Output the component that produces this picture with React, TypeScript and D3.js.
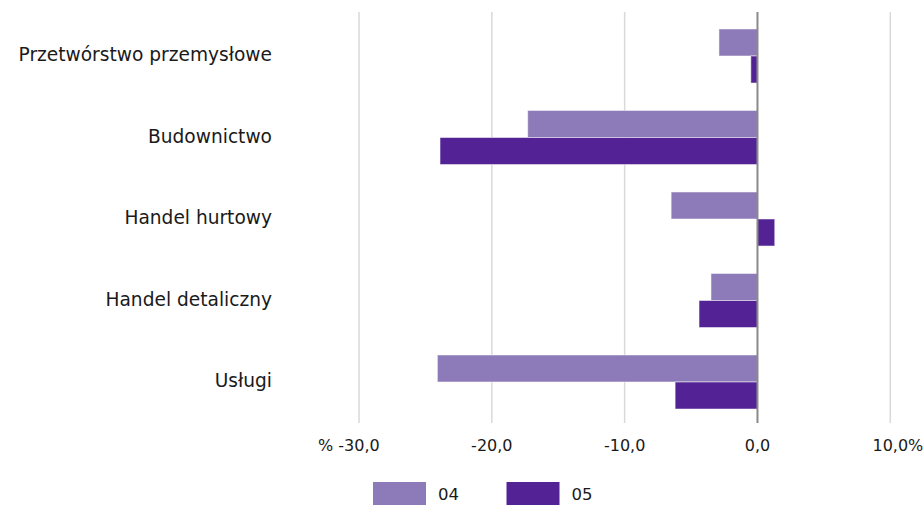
import React, { useEffect, useRef } from "react";
import * as d3 from "d3";

const categories = [
  "Przetwórstwo przemysłowe",
  "Budownictwo",
  "Handel hurtowy",
  "Handel detaliczny",
  "Usługi",
];
const seriesNames = ["04", "05"];
const values04 = [-2.9, -17.3, -6.5, -3.5, -24.1];
const values05 = [-0.5, -23.9, 1.3, -4.4, -6.2];
const tickValues = [-30, -20, -10, 0, 10];
const colors = ["#8c7bb8", "#532396"];

const W = 923;
const H = 505;
const FONT = "'DejaVu Sans', sans-serif";

export default function App() {
  const ref = useRef<SVGSVGElement>(null);
  useEffect(() => {
    const svg = d3.select(ref.current);
    svg.selectAll("*").remove();
    const x = d3.scaleLinear().domain([-30, 10]).range([359, 890.3]);
    const y = d3
      .scaleBand<string>()
      .domain(categories)
      .range([15.25, 422.75])
      .paddingInner(0.337)
      .paddingOuter(0.1685);
    const ys = d3.scaleBand<string>().domain(seriesNames).range([0, y.bandwidth()]);

    // gridlines
    svg
      .append("g")
      .selectAll("line")
      .data(tickValues.filter((t) => t !== 0))
      .join("line")
      .attr("x1", (d) => x(d))
      .attr("x2", (d) => x(d))
      .attr("y1", 12)
      .attr("y2", 423)
      .attr("stroke", "#d9d9d9")
      .attr("stroke-width", 1.5);

    const series = [values04, values05];
    series.forEach((vals, si) => {
      svg
        .append("g")
        .selectAll("rect")
        .data(vals)
        .join("rect")
        .attr("x", (d) => x(Math.min(0, d)))
        .attr("width", (d) => Math.abs(x(d) - x(0)))
        .attr("y", (_d, i) => (y(categories[i]) as number) + (ys(seriesNames[si]) as number))
        .attr("height", ys.bandwidth())
        .attr("fill", colors[si])
        .attr("stroke", "#ffffff")
        .attr("stroke-opacity", 0.5)
        .attr("stroke-width", 1);
    });

    // zero line
    svg
      .append("line")
      .attr("x1", x(0))
      .attr("x2", x(0))
      .attr("y1", 12)
      .attr("y2", 423)
      .attr("stroke", "#8a8a8a")
      .attr("stroke-width", 2);

    // category labels
    svg
      .append("g")
      .selectAll("text")
      .data(categories)
      .join("text")
      .attr("x", 272)
      .attr("y", (d) => (y(d) as number) + y.bandwidth() / 2 + 5)
      .attr("text-anchor", "end")
      .attr("font-family", FONT)
      .attr("font-size", 18.6)
      .attr("fill", "#1a1a1a")
      .text((d) => d);

    // tick labels
    const fmt = (v: number) => d3.format(".1f")(v).replace(".", ",").replace("−", "-");
    const tickY = 451;
    tickValues.forEach((t, i) => {
      const tx = svg
        .append("text")
        .attr("x", x(t))
        .attr("y", tickY)
        .attr("text-anchor", "middle")
        .attr("font-family", FONT)
        .attr("font-size", 16)
        .attr("fill", "#1a1a1a")
        .text(fmt(t));
      const bb = (tx.node() as SVGTextElement).getBBox();
      if (i === 0) {
        svg
          .append("text")
          .attr("x", bb.x - 5)
          .attr("y", tickY)
          .attr("text-anchor", "end")
          .attr("font-family", FONT)
          .attr("font-size", 16)
          .attr("fill", "#1a1a1a")
          .text("%");
      }
      if (i === tickValues.length - 1) {
        svg
          .append("text")
          .attr("x", bb.x + bb.width)
          .attr("y", tickY)
          .attr("text-anchor", "start")
          .attr("font-family", FONT)
          .attr("font-size", 16)
          .attr("fill", "#1a1a1a")
          .text("%");
      }
    });

    // legend
    const lg = svg.append("g");
    seriesNames.forEach((s, i) => {
      const lx = 373 + i * 133.5;
      lg.append("rect")
        .attr("x", lx)
        .attr("y", 482)
        .attr("width", 53)
        .attr("height", 24)
        .attr("fill", colors[i]);
      lg.append("text")
        .attr("x", lx + 65)
        .attr("y", 500)
        .attr("font-family", FONT)
        .attr("font-size", 16.5)
        .attr("fill", "#1a1a1a")
        .text(s);
    });
  }, []);

  return (
    <div style={{ position: "absolute", left: 0, top: 0, width: W, height: H, background: "#fff" }}>
      <svg ref={ref} width={W} height={H} style={{ display: "block" }} />
    </div>
  );
}
